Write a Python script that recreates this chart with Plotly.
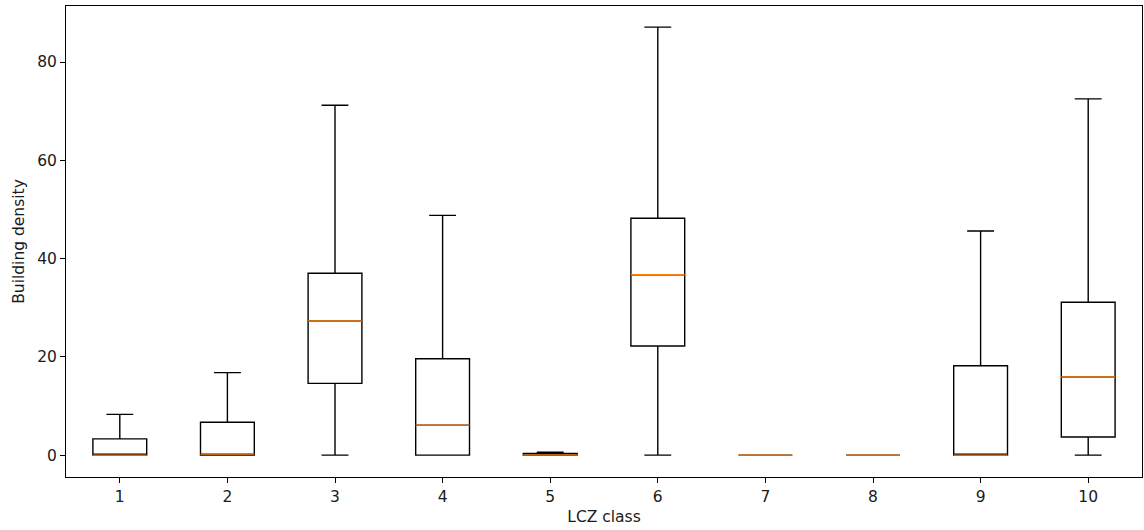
import plotly.graph_objects as go

categories = [1, 2, 3, 4, 5, 6, 7, 8, 9, 10]
lower_whisker = [0, 0, 0, 0, 0, 0, 0, 0, 0, 0]
q1_values = [0, 0, 14.6, 0, 0, 22.2, 0, 0, 0, 3.7]
median_values = [0, 0.2, 27.3, 6.1, 0.05, 36.7, 0, 0, 0, 15.9]
q3_values = [3.3, 6.7, 37.0, 19.6, 0.35, 48.2, 0, 0, 18.2, 31.1]
upper_whisker = [8.3, 16.8, 71.2, 48.8, 0.6, 87.1, 0, 0, 45.6, 72.5]
y_ticks = [0, 20, 40, 60, 80]

font_family = "DejaVu Sans, Liberation Sans, sans-serif"
font_size = 15.5

fig = go.Figure()
fig.add_trace(go.Box(
    x=categories,
    q1=q1_values,
    median=median_values,
    q3=q3_values,
    lowerfence=lower_whisker,
    upperfence=upper_whisker,
    width=0.5,
    whiskerwidth=0.5,
    line=dict(color="#000000", width=1.4),
    fillcolor="rgba(255,255,255,0)",
    boxpoints=False,
    showlegend=False,
))
fig.add_trace(go.Box(
    x=categories,
    q1=median_values,
    median=median_values,
    q3=median_values,
    lowerfence=median_values,
    upperfence=median_values,
    width=0.5,
    whiskerwidth=0,
    line=dict(color="#ff7f0e", width=1.4),
    fillcolor="rgba(255,255,255,0)",
    boxpoints=False,
    showlegend=False,
))

axis_common = dict(
    showline=True, linecolor="#000000", linewidth=1, mirror=True,
    showgrid=False, zeroline=False,
    ticks="outside", ticklen=5, tickcolor="#000000", tickwidth=1,
    tickfont=dict(family=font_family, size=font_size, color="#1a1a1a"),
)

fig.update_layout(
    width=1144, height=530,
    margin=dict(l=66, r=2, t=6, b=53, autoexpand=False),
    paper_bgcolor="#ffffff", plot_bgcolor="#ffffff",
    boxmode="overlay",
    xaxis=dict(
        range=[0.5, 10.5], tickmode="array", tickvals=categories,
        ticktext=[str(c) for c in categories],
        title=dict(text="LCZ class", font=dict(family=font_family, size=font_size, color="#1a1a1a"), standoff=6),
        **axis_common,
    ),
    yaxis=dict(
        range=[-4.45, 91.4], tickmode="array", tickvals=y_ticks,
        title=dict(text="Building density", font=dict(family=font_family, size=font_size, color="#1a1a1a"), standoff=8),
        **axis_common,
    ),
)

fig.write_html(
    "out.html",
    config={"displayModeBar": False},
    post_script="document.body.style.margin='0';document.body.style.overflow='hidden';",
)
